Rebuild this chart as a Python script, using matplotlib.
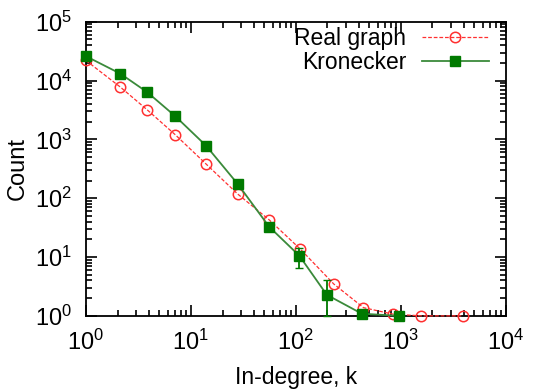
import matplotlib
matplotlib.use("Agg")
import matplotlib.pyplot as plt
from matplotlib.lines import Line2D
from matplotlib.ticker import LogLocator, NullFormatter

plt.rcParams['font.family'] = ['Liberation Sans', 'DejaVu Sans']
plt.rcParams['mathtext.default'] = 'regular'

# Real graph (in-degree distribution)
real_k = [1, 2.13, 3.83, 7.1, 13.9, 27.9, 55.6, 110, 230, 440, 840, 1570, 3920]
real_count = [22000, 7750, 3190, 1200, 384, 118, 43, 13.7, 3.47, 1.38, 1.07, 1.0, 1.0]

# Kronecker graph
kron_k = [1, 2.13, 3.83, 7.1, 13.9, 27.9, 55.6, 108, 197, 424, 957]
kron_count = [26000, 13100, 6370, 2480, 787, 175, 32.8, 10.5, 2.28, 1.09, 1.0]
kron_err_low = [0, 0, 0, 0, 0, 0, 4, 3.9, 1.28, 0, 0]
kron_err_high = [0, 0, 0, 0, 0, 0, 4, 3.7, 1.8, 0, 0]

red = '#ff3030'
green = '#007a00'
green_line = '#3a8a3a'

fig = plt.figure(figsize=(5.37, 3.89), dpi=100)
ax = fig.add_axes([0.160, 0.188, 0.782, 0.756])

real_style = dict(color=red, ls=(0, (3, 1.5)), lw=0.9, marker='o', ms=7.5,
                  mfc='none', mec=red, mew=1.1)
kron_style = dict(color=green_line, lw=1.3, marker='s', ms=7.5,
                  mfc=green, mec=green)

ax.plot(real_k, real_count, clip_on=False, zorder=3, **real_style)
ax.errorbar(kron_k, kron_count, yerr=[kron_err_low, kron_err_high],
            ecolor=green, elinewidth=1.3, capsize=3,
            clip_on=False, zorder=4, **kron_style)

ax.set_xscale('log')
ax.set_yscale('log')
ax.set_xlim(1, 1e4)
ax.set_ylim(1, 1e5)

ax.xaxis.set_major_locator(LogLocator(base=10, numticks=10))
ax.yaxis.set_major_locator(LogLocator(base=10, numticks=10))
ax.xaxis.set_minor_locator(LogLocator(base=10, subs=range(2, 10), numticks=20))
ax.yaxis.set_minor_locator(LogLocator(base=10, subs=range(2, 10), numticks=20))
ax.xaxis.set_minor_formatter(NullFormatter())
ax.yaxis.set_minor_formatter(NullFormatter())

ax.tick_params(which='both', direction='in', top=True, right=True,
               labelsize=17, width=1.2)
ax.tick_params(which='major', length=8)
ax.tick_params(axis='x', which='major', pad=10)
ax.tick_params(axis='y', which='major', pad=10)
ax.tick_params(which='minor', length=4)
for s in ax.spines.values():
    s.set_linewidth(1.3)

ax.set_xlabel('In-degree, k', fontsize=16.5, labelpad=8)
ax.set_ylabel('Count', fontsize=17, labelpad=4)

handles = [Line2D([], [], **real_style), Line2D([], [], **kron_style)]
labels = ['Real graph', 'Kronecker']
ax.legend(handles, labels, loc='upper right', frameon=False,
          markerfirst=False, fontsize=16.5, handlelength=2.9,
          handletextpad=0.7, labelspacing=0.08,
          borderaxespad=0, bbox_to_anchor=(0.981, 1.015))

fig.savefig('out.png', dpi=100)
